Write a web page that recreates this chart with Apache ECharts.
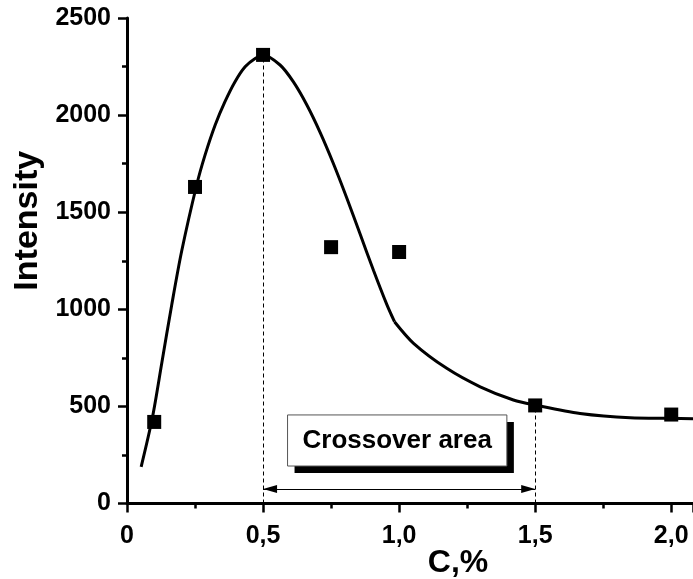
<!DOCTYPE html>
<html><head><meta charset="utf-8">
<script src="https://cdn.jsdelivr.net/npm/echarts@6/dist/echarts.min.js"></script>
<style>html,body{margin:0;padding:0;background:#fff}#c{width:693px;height:579px}</style>
</head><body><div id="c"></div>
<script>
// measured points
const pointX = [0.1, 0.25, 0.5, 0.75, 1.0, 1.5, 2.0];
const pointY = [420, 1630, 2310, 1320, 1295, 505, 458];
// fitted curve, first branch
const curve1X = [0.052, 0.093, 0.128, 0.164, 0.201, 0.256, 0.287, 0.324, 0.36, 0.397, 0.434, 0.471, 0.5, 0.5625, 0.611, 0.661, 0.71, 0.758, 0.808, 0.857, 0.906, 0.955, 0.983];
const curve1Y = [189, 440, 725, 1020, 1300, 1640, 1795, 1949, 2069, 2172, 2249, 2292, 2308, 2258, 2172, 2052, 1910, 1752, 1572, 1386, 1200, 1024, 936];
// fitted curve, second branch
const curve2X = [0.983, 1.053, 1.175, 1.298, 1.42, 1.5, 1.665, 1.849, 2.0, 2.08];
const curve2Y = [936, 825, 696, 601, 533, 507, 464, 442, 439, 437];
// annotation
const areaStart = 0.5, areaEnd = 1.5;
const areaStartY = 2310, areaEndY = 505;
const arrowY = 75;
const boxX = [0.59, 1.396];
const boxY = [193, 456];
const boxText = 'Crossover area';
const xTicks = ['0', '0,5', '1,0', '1,5', '2,0'];

const zip = (a, b) => a.map((v, i) => [v, b[i]]);
const F = 'Liberation Sans, Arial, sans-serif';
const chart = echarts.init(document.getElementById('c'));
chart.setOption({
  animation: false,
  grid: {left: 127, right: 0, top: 18, bottom: 75.5, outerBoundsMode: 'none', containLabel: false},
  xAxis: {
    type: 'value', min: 0, max: 2.08, interval: 0.5,
    name: 'C,%', nameLocation: 'middle', nameGap: 44, nameMoveOverlap: false,
    nameTextStyle: {fontFamily: F, fontWeight: 'bold', fontSize: 32, color: '#000', padding: [0, 0, 0, 96]},
    axisLine: {lineStyle: {color: '#000', width: 3}},
    axisTick: {length: 9, lineStyle: {color: '#000', width: 2.5}},
    minorTick: {show: true, splitNumber: 2, length: 5, lineStyle: {color: '#000', width: 2.5}},
    splitLine: {show: false},
    axisLabel: {
      margin: 20, fontFamily: F, fontWeight: 'bold', fontSize: 25, color: '#000', showMaxLabel: false,
      formatter: v => { const i = Math.round(v / 0.5); return Math.abs(v - i * 0.5) < 1e-6 ? (xTicks[i] || '') : ''; }
    }
  },
  yAxis: {
    type: 'value', min: 0, max: 2500, interval: 500,
    name: 'Intensity', nameLocation: 'middle', nameGap: 82, nameMoveOverlap: false,
    nameTextStyle: {fontFamily: F, fontWeight: 'bold', fontSize: 34, color: '#000', padding: [0, 0, 0, 80]},
    axisLine: {show: true, lineStyle: {color: '#000', width: 3}},
    axisTick: {show: true, length: 9, lineStyle: {color: '#000', width: 2.5}},
    minorTick: {show: true, splitNumber: 2, length: 5, lineStyle: {color: '#000', width: 2.5}},
    splitLine: {show: false},
    axisLabel: {margin: 16, fontFamily: F, fontWeight: 'bold', fontSize: 25, color: '#000', formatter: v => String(v)}
  },
  series: [
    {type: 'line', data: zip(curve1X, curve1Y), smooth: 0.3, showSymbol: false,
      lineStyle: {color: '#000', width: 3}, z: 3},
    {type: 'line', data: zip(curve2X, curve2Y), smooth: 0.3, showSymbol: false,
      lineStyle: {color: '#000', width: 3}, z: 3},
    {type: 'scatter', data: zip(pointX, pointY), symbol: 'rect', symbolSize: 14,
      itemStyle: {color: '#000', opacity: 1}, z: 5,
      markLine: {
        silent: true, symbol: 'none', animation: false,
        lineStyle: {color: '#000', type: [4, 3], width: 1},
        label: {show: false},
        data: [
          [{coord: [areaStart, 0]}, {coord: [areaStart, areaStartY]}],
          [{coord: [areaEnd, 0]}, {coord: [areaEnd, areaEndY]}],
          [{coord: [areaStart, arrowY], symbol: 'triangle', symbolSize: [8, 14], symbolOffset: [0, 7]},
           {coord: [areaEnd, arrowY], symbol: 'triangle', symbolSize: [8, 14], symbolOffset: [0, 7],
            lineStyle: {type: 'solid', width: 1}}]
        ]
      },
      markArea: {
        silent: true,
        label: {show: true, position: 'inside', fontFamily: F, fontWeight: 'bold', fontSize: 26, color: '#000'},
        data: [
          [{name: boxText, coord: [boxX[0], boxY[1]],
            itemStyle: {color: '#fff', borderWidth: 0, opacity: 1,
              shadowColor: '#000', shadowBlur: 0, shadowOffsetX: 7, shadowOffsetY: 7}},
           {coord: [boxX[1], boxY[0]]}],
          [{name: '', coord: [boxX[0], boxY[1]],
            itemStyle: {color: 'rgba(0,0,0,0)', borderColor: '#555', borderWidth: 1, opacity: 1, shadowBlur: 0, shadowColor: 'rgba(0,0,0,0)'},
            label: {show: false}},
           {coord: [boxX[1], boxY[0]]}]
        ]
      }
    }
  ]
});
</script></body></html>
